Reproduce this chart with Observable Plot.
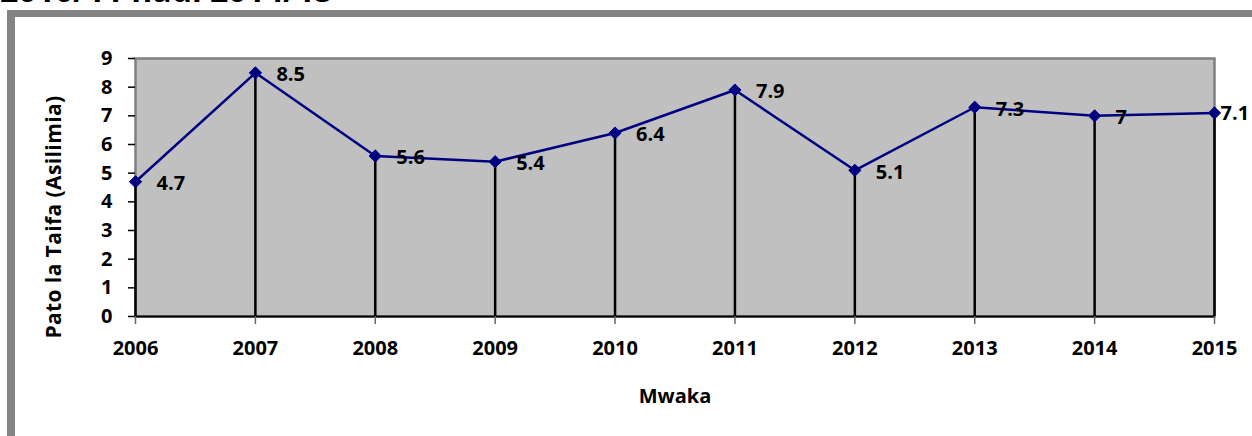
<!DOCTYPE html>
<html>
<head>
<meta charset="utf-8">
<script src="https://cdn.jsdelivr.net/npm/d3@7"></script>
<script src="https://cdn.jsdelivr.net/npm/@observablehq/plot@0.6"></script>
<style>
  html, body { margin: 0; padding: 0; background: #fff; }
  #wrap { position: relative; width: 1252px; height: 436px; overflow: hidden; background: #fff; }
  #title { position: absolute; left: 0; top: -25px; font-family: "Open Sans", sans-serif; font-weight: bold; font-size: 32px; line-height: 30px; color: #000; white-space: nowrap; }
  #border { position: absolute; left: 7px; top: 10px; width: 1400px; height: 600px; border-left: 8px solid #848484; border-top: 7px solid #848484; box-sizing: border-box; }
  #chart { position: absolute; left: 0; top: 0; }
  #ytitle { position: absolute; left: 53px; top: 217px; transform: translate(-50%, -50%) rotate(-90deg); font-family: "Open Sans", sans-serif; font-weight: bold; font-size: 21px; letter-spacing: 0.4px; line-height: 24px; color: #000; white-space: nowrap; }
</style>
</head>
<body>
<div id="wrap">
  <div id="title">2010/11 hadi 2014/15</div>
  <div id="border"></div>
  <div id="chart"></div>
  <div id="ytitle"></div>
</div>
<script>
const years = [2006, 2007, 2008, 2009, 2010, 2011, 2012, 2013, 2014, 2015];
const values = [4.7, 8.5, 5.6, 5.4, 6.4, 7.9, 5.1, 7.3, 7.0, 7.1];
const valueLabels = ["4.7", "8.5", "5.6", "5.4", "6.4", "7.9", "5.1", "7.3", "7", "7.1"];
const yTicks = [0, 1, 2, 3, 4, 5, 6, 7, 8, 9];
const xTitle = "Mwaka";
const yTitle = "Pato la Taifa (Asilimia)";

const data = years.map((year, i) => ({year, value: values[i], label: valueLabels[i]}));
const lastYear = years[years.length - 1];

document.getElementById("ytitle").textContent = yTitle;

const chart = Plot.plot({
  width: 1252,
  height: 436,
  marginLeft: 135,
  marginRight: 38,
  marginTop: 58,
  marginBottom: 120,
  style: {fontFamily: "'Open Sans', sans-serif", fontSize: "20px", fontWeight: "bold", color: "#000", background: "transparent", overflow: "visible"},
  x: {domain: [2006, 2015]},
  y: {domain: [0, 9]},
  marks: [
    Plot.frame({fill: "#c0c0c0", stroke: "#808080", strokeWidth: 2.5}),
    Plot.ruleY([0], {stroke: "#000", strokeWidth: 2}),
    Plot.ruleX(data, {x: "year", y1: 0, y2: "value", stroke: "#000", strokeWidth: 2.5}),
    Plot.line(data, {x: "year", y: "value", stroke: "#000080", strokeWidth: 2.5}),
    Plot.dot(data, {x: "year", y: "value", symbol: "diamond2", r: 5.5, fill: "#000080", stroke: "#000080", strokeWidth: 1}),
    Plot.text(data, {filter: d => d.year !== lastYear, x: "year", y: "value", text: "label", dx: 21, dy: 2, textAnchor: "start", fontSize: 20, fontWeight: "bold", fill: "#000"}),
    Plot.text(data, {filter: d => d.year === lastYear, x: "year", y: "value", text: "label", dx: 6, dy: 1, textAnchor: "start", fontSize: 20, fontWeight: "bold", fill: "#000"}),
    Plot.axisY({ticks: yTicks, tickSize: 7, tickPadding: 16, label: null, tickFormat: d => String(d), stroke: "#000", strokeWidth: 1.5}),
    Plot.axisX({ticks: years, tickSize: 8, tickPadding: 16, label: null, tickFormat: d => String(d), stroke: "#666", strokeWidth: 1.5}),
    Plot.text([xTitle], {text: d => d, frameAnchor: "bottom", dy: 86, fontSize: 20, fontWeight: "bold", fill: "#000"})
  ]
});
document.getElementById("chart").appendChild(chart);
</script>
</body>
</html>
